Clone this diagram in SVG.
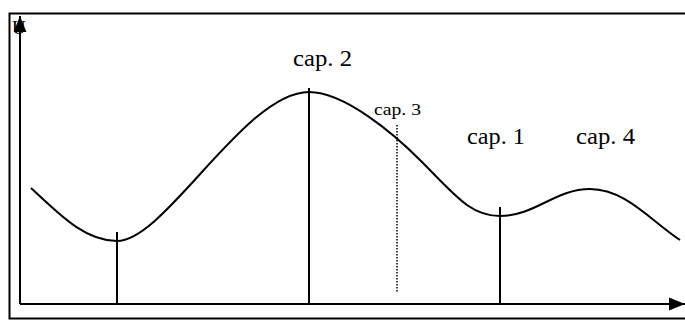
<svg xmlns="http://www.w3.org/2000/svg" width="685" height="320" viewBox="0 0 685 320">
<defs>
<style>
.lbl{font-family:"Liberation Serif","DejaVu Serif",serif;fill:#000}
.ln{stroke:#000;stroke-width:2;fill:none}
</style>
<marker id="ah" viewBox="0 0 10 10" refX="10" refY="5" markerWidth="8" markerHeight="8" orient="auto" markerUnits="strokeWidth">
<path d="M0,1 L10,5 L0,9 Z" fill="#000"/>
</marker>
</defs>
<rect width="685" height="320" fill="#fff"/>
<g id="frame"><rect x="9.5" y="13.5" width="700" height="305" fill="none" stroke="#000" stroke-width="2"/></g>
<g id="ylabel"><text class="lbl" x="12" y="34" font-size="19">U</text></g>
<g id="connectors">
<line class="ln" x1="20" y1="304" x2="20" y2="16" marker-end="url(#ah)"/>
<line class="ln" x1="20" y1="304" x2="685" y2="304" marker-end="url(#ah)"/>
<path class="ln" d="M31,188 C60,215 85,241 117,241 C165,241 245,92 309,92 C345,92 395,135 420,160 C455,195 470,216 500,216 C535,216 555,189 590,189 C625,189 650,220 680,240"/>
<line class="ln" x1="117" y1="232" x2="117" y2="304"/>
<line class="ln" x1="309" y1="88" x2="309" y2="304"/>
<line x1="397" y1="125" x2="397" y2="293" stroke="#000" stroke-width="1.5" stroke-dasharray="1.5,1.5"/>
<line class="ln" x1="500" y1="207" x2="500" y2="304"/>
</g>
<g id="cap2"><text class="lbl" x="293" y="66" font-size="23" textLength="59" lengthAdjust="spacingAndGlyphs">cap. 2</text></g>
<g id="cap3"><text class="lbl" x="374" y="115" font-size="16" textLength="47" lengthAdjust="spacingAndGlyphs">cap. 3</text></g>
<g id="cap1"><text class="lbl" x="467" y="144" font-size="23" textLength="58" lengthAdjust="spacingAndGlyphs">cap. 1</text></g>
<g id="cap4"><text class="lbl" x="576" y="144" font-size="23" textLength="59" lengthAdjust="spacingAndGlyphs">cap. 4</text></g>
</svg>
